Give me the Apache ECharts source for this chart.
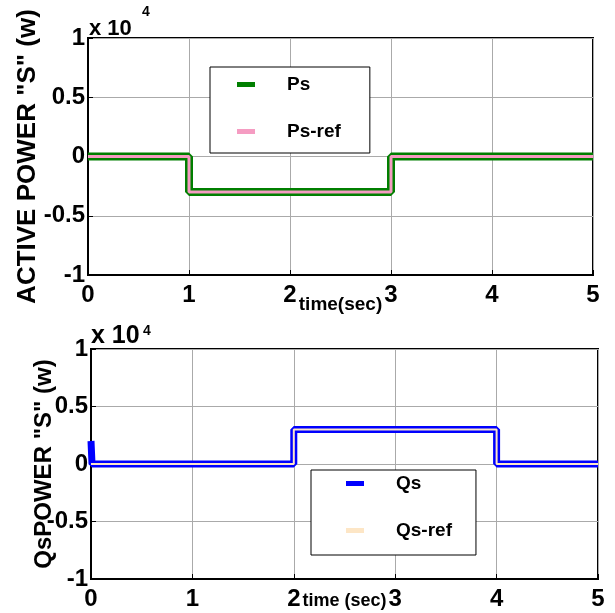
<!DOCTYPE html>
<html>
<head>
<meta charset="utf-8">
<script src="https://cdn.jsdelivr.net/npm/echarts@6/dist/echarts.min.js"></script>
<style>
  html, body { margin: 0; padding: 0; background: #fff; }
  #chart { width: 615px; height: 613px; }
</style>
</head>
<body>
<div id="chart"></div>
<script>
  // top plot: active power
  var tPs = [0, 1, 1, 3, 3, 5];
  var ps = [0, 0, -3000, -3000, 0, 0];
  var psRef = [0, 0, -3000, -3000, 0, 0];
  // bottom plot: reactive power
  var tQs = [0, 0.01, 2, 2, 4, 4, 5];
  var qs = [2000, 0, 0, 3000, 3000, 0, 0];
  var tQsRef = [0, 2, 2, 4, 4, 5];
  var qsRef = [0, 0, 3000, 3000, 0, 0];
  var yTicks = { '10000': '1', '5000': '0.5', '0': '0', '-5000': '-0.5', '-10000': '-1' };

  function pairs(xs, ys) {
    return xs.map(function (x, i) { return [x, ys[i]]; });
  }

  var font = 'Liberation Sans, Arial, sans-serif';
  var chart = echarts.init(document.getElementById('chart'));

  function xAxis(idx, name, gap, size) {
    return {
      gridIndex: idx, type: 'value', min: 0, max: 5, interval: 1,
      name: name, nameLocation: 'middle', nameGap: gap, nameMoveOverlap: false,
      nameTextStyle: { fontFamily: font, fontWeight: 'bold', fontSize: size, color: '#000' },
      axisLine: { show: true, onZero: false, lineStyle: { color: '#000', width: 2 } },
      axisTick: { show: true, inside: true, length: 5, lineStyle: { color: '#000' } },
      axisLabel: { margin: 8, fontFamily: font, fontWeight: 'bold', fontSize: 24, color: '#000' },
      splitLine: { show: true, lineStyle: { color: '#aaa', width: 1 } }
    };
  }
  function yAxis(idx, name, gap, size) {
    return {
      gridIndex: idx, type: 'value', min: -10000, max: 10000, interval: 5000,
      name: name, nameLocation: 'middle', nameGap: gap, nameRotate: 90, nameMoveOverlap: false,
      nameTextStyle: { fontFamily: font, fontWeight: 'bold', fontSize: size, color: '#000' },
      axisLine: { show: true, lineStyle: { color: '#000', width: 2 } },
      axisTick: { show: true, inside: true, length: 5, lineStyle: { color: '#000' } },
      axisLabel: {
        margin: 3, fontFamily: font, fontWeight: 'bold', fontSize: 24, color: '#000',
        formatter: function (v) { return yTicks[String(v)]; }
      },
      splitLine: { show: true, lineStyle: { color: '#aaa', width: 1 } }
    };
  }
  function legend(left, top, names, pad, textGap) {
    return {
      orient: 'vertical', left: left, top: top, data: names,
      icon: 'rect', itemWidth: 18, itemHeight: 5, itemGap: 28,
      padding: pad, borderColor: '#000', borderWidth: 1, backgroundColor: '#fff',
      textStyle: { fontFamily: font, fontWeight: 'bold', fontSize: 19, color: '#000', padding: [0, 0, 0, textGap] }
    };
  }
  // "x 10^4" exponent note above each plot
  function scaleText(x, y, size) {
    return { type: 'text', left: x, top: y, style: { text: 'x 10', font: 'bold ' + size + 'px ' + font, fill: '#000' } };
  }
  function supText(x, y) {
    return { type: 'text', left: x, top: y, style: { text: '4', font: 'bold 14px ' + font, fill: '#000' } };
  }

  var option = {
    animation: false,
    grid: [
      { left: 88, top: 38, width: 505, height: 237, show: true, borderColor: '#000', borderWidth: 2 },
      { left: 91, top: 349, width: 507, height: 230, show: true, borderColor: '#000', borderWidth: 2 }
    ],
    xAxis: [xAxis(0, 'time(sec)', 20, 19), xAxis(1, 'time (sec)', 13, 18)],
    yAxis: [yAxis(0, 'ACTIVE POWER "S" (w)', 47, 26), yAxis(1, 'QsPOWER "S" (w)', 35, 24)],
    legend: [
      legend(210, 67, ['Ps', 'Ps-ref'], [8, 29, 12, 27], 27),
      legend(311, 470, ['Qs', 'Qs-ref'], [4, 24, 15, 35], 27)
    ],
    graphic: [
      scaleText(89, 18, 22), supText(142, 5),
      scaleText(91, 324, 25), supText(143, 324)
    ],
    series: [
      {
        name: 'Ps', type: 'line', xAxisIndex: 0, yAxisIndex: 0, showSymbol: false,
        data: pairs(tPs, ps), color: '#007f00',
        lineStyle: { color: '#007f00', width: 8 }
      },
      {
        name: 'Ps-ref', type: 'line', xAxisIndex: 0, yAxisIndex: 0, showSymbol: false,
        data: pairs(tPs, psRef), color: '#f59cc2',
        lineStyle: { color: '#f59cc2', width: 3 }
      },
      {
        name: 'Qs', type: 'line', xAxisIndex: 1, yAxisIndex: 1, showSymbol: false,
        data: pairs(tQs, qs), color: '#0000ff',
        lineStyle: { color: '#0000ff', width: 7 }
      },
      {
        name: 'Qs-ref', type: 'line', xAxisIndex: 1, yAxisIndex: 1, showSymbol: false,
        data: pairs(tQsRef, qsRef), color: '#fde6c6',
        lineStyle: { color: '#fde6c6', width: 2 }
      }
    ]
  };
  chart.setOption(option);
</script>
</body>
</html>
